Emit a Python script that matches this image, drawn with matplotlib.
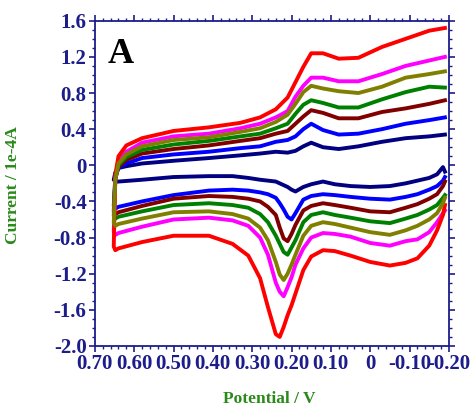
import matplotlib
matplotlib.use("Agg")
import matplotlib.pyplot as plt
from matplotlib.ticker import MultipleLocator, FixedLocator

# potentials (V) of the forward (upper) and reverse (lower) branches
up_v = [0.652, 0.648, 0.64, 0.62, 0.58, 0.50, 0.41, 0.33, 0.28, 0.24, 0.21,
        0.19, 0.17, 0.15, 0.12, 0.08, 0.03, -0.03, -0.09, -0.15, -0.19]
lo_v = [-0.19, -0.185, -0.17, -0.15, -0.12, -0.09, -0.05, 0.0, 0.05, 0.09, 0.12,
        0.15, 0.17, 0.19, 0.20, 0.21, 0.22, 0.23, 0.24, 0.26, 0.28, 0.31, 0.35,
        0.41, 0.50, 0.58, 0.64, 0.648, 0.652]

# currents (1e-4 A)
red_lo = [-0.44, -0.55, -0.72, -0.89, -1.03, -1.08, -1.11, -1.07, -1.00, -0.95, -0.94,
          -1.01, -1.16, -1.42, -1.55, -1.66, -1.79, -1.90, -1.87, -1.57, -1.25, -1.00, -0.87,
          -0.78, -0.78, -0.85, -0.92, -0.94, -0.90]
red_up = [-0.90, -0.10, 0.10, 0.22, 0.30, 0.38, 0.42, 0.47, 0.53, 0.62, 0.75,
          0.92, 1.09, 1.24, 1.24, 1.18, 1.19, 1.31, 1.40, 1.49, 1.52]

magenta_lo = [-0.50, -0.53, -0.63, -0.74, -0.82, -0.84, -0.89, -0.86, -0.79, -0.76, -0.75,
              -0.80, -0.92, -1.10, -1.24, -1.35, -1.45, -1.40, -1.30, -0.99, -0.80, -0.67, -0.61,
              -0.58, -0.60, -0.68, -0.75, -0.77, -0.74]
magenta_up = [-0.74, -0.15, 0.05, 0.15, 0.25, 0.32, 0.35, 0.41, 0.46, 0.53, 0.60,
              0.76, 0.88, 0.97, 0.97, 0.93, 0.93, 1.01, 1.10, 1.16, 1.20]

olive_lo = [-0.36, -0.42, -0.53, -0.60, -0.67, -0.72, -0.77, -0.74, -0.69, -0.65, -0.63,
            -0.67, -0.78, -0.99, -1.10, -1.20, -1.27, -1.21, -1.07, -0.83, -0.69, -0.59, -0.54,
            -0.51, -0.52, -0.59, -0.65, -0.67, -0.64]
olive_up = [-0.64, -0.15, 0.02, 0.12, 0.21, 0.28, 0.31, 0.37, 0.41, 0.48, 0.56,
            0.68, 0.81, 0.88, 0.85, 0.82, 0.80, 0.87, 0.97, 1.01, 1.04]

green_lo = [-0.33, -0.36, -0.44, -0.49, -0.55, -0.59, -0.64, -0.62, -0.58, -0.55, -0.52,
            -0.55, -0.63, -0.83, -0.91, -0.99, -0.96, -0.87, -0.78, -0.63, -0.54, -0.47, -0.44,
            -0.42, -0.44, -0.51, -0.57, -0.59, -0.56]
green_up = [-0.56, -0.15, 0.0, 0.09, 0.17, 0.23, 0.27, 0.32, 0.35, 0.41, 0.46,
            0.57, 0.67, 0.72, 0.69, 0.64, 0.64, 0.73, 0.81, 0.87, 0.86]

maroon_lo = [-0.18, -0.23, -0.32, -0.37, -0.43, -0.47, -0.52, -0.51, -0.47, -0.44, -0.42,
             -0.45, -0.50, -0.66, -0.76, -0.84, -0.81, -0.69, -0.55, -0.46, -0.40, -0.37, -0.35,
             -0.34, -0.37, -0.45, -0.52, -0.54, -0.51]
maroon_up = [-0.51, -0.15, -0.02, 0.06, 0.13, 0.18, 0.22, 0.27, 0.30, 0.35, 0.38,
             0.46, 0.54, 0.61, 0.58, 0.52, 0.52, 0.59, 0.63, 0.68, 0.72]

blue_lo = [-0.13, -0.17, -0.23, -0.27, -0.32, -0.35, -0.38, -0.37, -0.35, -0.33, -0.32,
           -0.34, -0.38, -0.53, -0.60, -0.57, -0.49, -0.42, -0.36, -0.32, -0.30, -0.28, -0.27,
           -0.28, -0.33, -0.40, -0.46, -0.48, -0.45]
blue_up = [-0.45, -0.12, -0.03, 0.02, 0.08, 0.12, 0.15, 0.19, 0.21, 0.26, 0.28,
           0.32, 0.40, 0.46, 0.39, 0.34, 0.35, 0.40, 0.46, 0.50, 0.53]

navy_lo = [-0.07, -0.02, -0.10, -0.14, -0.17, -0.20, -0.23, -0.24, -0.23, -0.21, -0.18,
           -0.21, -0.24, -0.29, -0.27, -0.24, -0.22, -0.20, -0.18, -0.17, -0.16, -0.14, -0.12,
           -0.12, -0.13, -0.16, -0.18, -0.18, -0.16]
navy_up = [-0.16, -0.08, -0.03, -0.01, 0.02, 0.05, 0.08, 0.11, 0.13, 0.15, 0.14,
           0.16, 0.21, 0.25, 0.20, 0.18, 0.21, 0.26, 0.30, 0.32, 0.34]

x_ticks = [0.70, 0.60, 0.50, 0.40, 0.30, 0.20, 0.10, 0.0, -0.10, -0.20]
x_labels = ['0.70', '0.60', '0.50', '0.40', '0.30', '0.20', '0.10', '0', '-0.10', '-0.20']
y_ticks = [1.6, 1.2, 0.8, 0.4, 0.0, -0.4, -0.8, -1.2, -1.6, -2.0]
y_labels = ['1.6', '1.2', '0.8', '0.4', '0', '-0.4', '-0.8', '-1.2', '-1.6', '-2.0']

curves = [
    (navy_lo, navy_up, '#000080'),
    (blue_lo, blue_up, '#0000ff'),
    (maroon_lo, maroon_up, '#800000'),
    (green_lo, green_up, '#008000'),
    (magenta_lo, magenta_up, '#ff00ff'),
    (red_lo, red_up, '#ff0000'),
    (olive_lo, olive_up, '#808000'),
]

plt.rcParams['font.family'] = ['Liberation Serif', 'DejaVu Serif']
axis_col = '#1c1c8a'

fig = plt.figure(figsize=(4.72, 4.07), dpi=100)
ax = fig.add_axes([0.201, 0.150, 0.750, 0.799])

for lo, up, col in curves:
    ax.plot(lo_v + up_v, lo + up, color=col, lw=2.8, solid_joinstyle='round')

ax.set_xlim(0.70, -0.20)
ax.set_ylim(-2.0, 1.6)
ax.xaxis.set_major_locator(FixedLocator(x_ticks))
ax.set_xticklabels(x_labels)
ax.xaxis.set_minor_locator(MultipleLocator(0.02))
ax.yaxis.set_major_locator(FixedLocator(y_ticks))
ax.set_yticklabels(y_labels)
ax.yaxis.set_minor_locator(MultipleLocator(0.1))

for s in ax.spines.values():
    s.set_color(axis_col)
    s.set_linewidth(1.3)

ax.tick_params(axis='both', which='both', colors=axis_col, labelcolor=axis_col,
               top=True, right=True)
ax.tick_params(axis='both', which='major', length=4, width=1.2, labelsize=15, pad=2)
ax.tick_params(axis='both', which='minor', length=2, width=1.0)
ax.tick_params(axis='x', which='both', top=True, direction='out')
ax.tick_params(axis='y', which='both', right=True, direction='out')
for lab in ax.get_xticklabels() + ax.get_yticklabels():
    lab.set_fontweight('bold')

ax.set_xlabel('Potential / V', color='#2a8a1a', fontsize=12.5, fontweight='bold')
ax.set_ylabel('Current / 1e-4A', color='#2a8a1a', fontsize=12.5, fontweight='bold')
ax.xaxis.set_label_coords(0.494, -0.14)
ax.yaxis.set_label_coords(-0.21, 0.495)

ax.text(0.035, 0.895, 'A', transform=ax.transAxes, fontsize=26, fontweight='bold',
        color='black', va='center', ha='left')

fig.savefig('out.png', dpi=100)
